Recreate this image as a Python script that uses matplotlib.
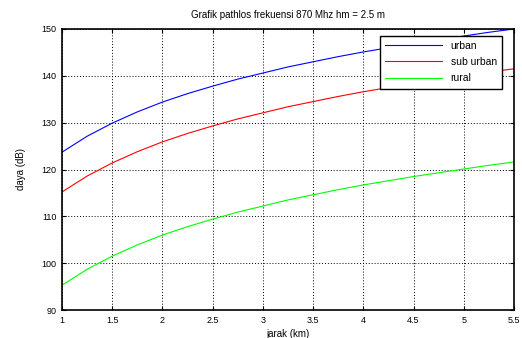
import numpy as np
import matplotlib
matplotlib.use('Agg')
import matplotlib.pyplot as plt

# -- data -- #
jarak = [1, 1.25, 1.5, 1.75, 2, 2.25, 2.5, 2.75, 3, 3.25, 3.5, 3.75, 4, 4.25, 4.5, 4.75, 5, 5.25, 5.5]
urban = [123.7, 127.1, 129.9, 132.3, 134.4, 136.2, 137.8, 139.3, 140.6, 141.9, 143.0, 144.1, 145.1, 146.0, 146.9, 147.7, 148.5, 149.3, 150.0]
suburban = [115.2, 118.6, 121.4, 123.8, 125.9, 127.7, 129.3, 130.8, 132.1, 133.4, 134.5, 135.6, 136.6, 137.5, 138.4, 139.2, 140.0, 140.8, 141.5]
rural = [95.3, 98.7, 101.5, 103.9, 106.0, 107.8, 109.4, 110.9, 112.2, 113.5, 114.6, 115.7, 116.7, 117.6, 118.5, 119.3, 120.1, 120.9, 121.6]

xticks = [1, 1.5, 2, 2.5, 3, 3.5, 4, 4.5, 5, 5.5]
yticks = [90, 100, 110, 120, 130, 140, 150]

plt.rcParams['font.family'] = ['Liberation Sans', 'DejaVu Sans']
plt.rcParams['font.size'] = 6.5

fig = plt.figure(figsize=(5.22, 3.38), dpi=100)
ax = fig.add_axes([62/522, 1-310/338, 452/522, 281/338])

ax.plot(jarak, urban, color=(0, 0, 1), lw=0.8, label='urban')
ax.plot(jarak, suburban, color=(1, 0, 0), lw=0.8, label='sub urban')
ax.plot(jarak, rural, color=(0, 1, 0), lw=0.8, label='rural')

ax.set_xlim(1, 5.5)
ax.set_ylim(90, 150)
ax.set_xticks(xticks)
ax.set_xticklabels([('%g' % t) for t in xticks])
ax.set_yticks(yticks)
ax.grid(True, color='black', linestyle=(0, (1, 2)), lw=0.7)
ax.tick_params(direction='in', top=True, right=True, length=3, width=0.8, pad=4)
for s in ax.spines.values():
    s.set_linewidth(1.2)

ax.set_title('Grafik pathlos frekuensi 870 Mhz hm = 2.5 m', fontsize=7, pad=8)
ax.set_xlabel('jarak (km)', fontsize=7, labelpad=3)
ax.set_ylabel('daya (dB)', fontsize=7, labelpad=11)

leg = ax.legend(loc='upper right', bbox_to_anchor=(0.985, 0.995), fancybox=False,
                edgecolor='black', framealpha=1, fontsize=7.5, handlelength=5.5,
                borderpad=0.5, labelspacing=0.6)
leg.get_frame().set_linewidth(1.0)

fig.savefig('out.png', dpi=100)
